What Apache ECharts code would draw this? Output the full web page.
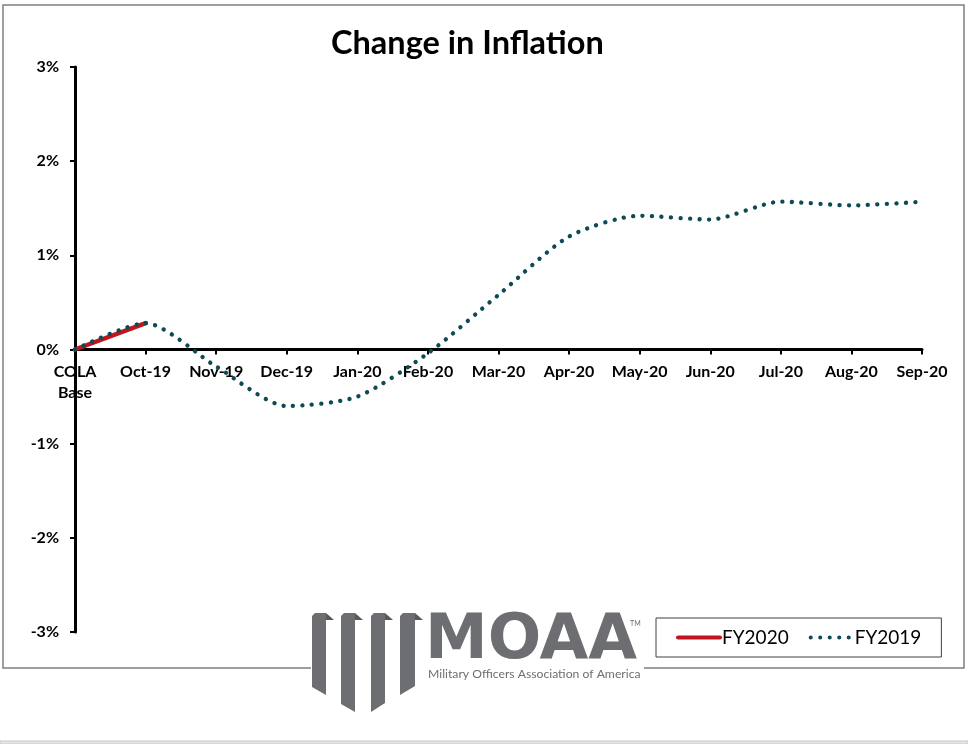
<!DOCTYPE html>
<html>
<head>
<meta charset="utf-8">
<script src="https://cdn.jsdelivr.net/npm/echarts@6/dist/echarts.min.js"></script>
<style>
html,body{margin:0;padding:0;background:#fff;}
#c{width:968px;height:744px;}
</style>
</head>
<body>
<div id="c"></div>
<script>
const categories = ['COLA\nBase','Oct-19','Nov-19','Dec-19','Jan-20','Feb-20','Mar-20','Apr-20','May-20','Jun-20','Jul-20','Aug-20','Sep-20'];
const fy2020 = [0, 0.28];
const fy2019 = [0, 0.28, -0.18, -0.60, -0.50, -0.04, 0.58, 1.20, 1.42, 1.38, 1.57, 1.53, 1.57];
const yTicks = [-3, -2, -1, 0, 1, 2, 3];

const chart = echarts.init(document.getElementById('c'), null, {renderer: 'canvas'});
const GREY = '#6d6e71', DARK = '#58595b';

function ribbon(x0, x1, top, bl, br) {
  return [
    {type:'polygon', z:11, shape:{points:[[x0,top+3],[x0+3,top],[x1,top],[x1,br],[x0,bl]]}, style:{fill:GREY}},
    {type:'polygon', z:12, shape:{points:[[x1,top],[x1+8,top+7],[x1,top+7]]}, style:{fill:DARK}}
  ];
}

const logo = [
  {type:'rect', z:10, shape:{x:311, y:604, width:333, height:112}, style:{fill:'#fff'}},
  ...ribbon(312, 326, 613, 687, 695),
  ...ribbon(341, 355, 613, 704, 712),
  ...ribbon(371, 385, 613, 712, 703),
  ...ribbon(400, 415, 613, 695, 686),
  {type:'text', z:11, x:425, y:610, style:{text:'MOAA', fill:GREY, font:'bold 63px "DejaVu Sans"', textAlign:'left', textVerticalAlign:'top'}},
  {type:'text', z:11, x:630, y:620, style:{text:'TM', fill:GREY, font:'7px Lato'}},
  {type:'text', z:11, x:428, y:668, style:{text:'Military Officers Association of America', fill:GREY, font:'12.2px "Liberation Sans Narrow", Lato'}}
];

chart.setOption({
  animation: false,
  backgroundColor: '#fff',
  title: {
    text: 'Change in Inflation',
    left: 326, top: 22,
    textStyle: {fontFamily: 'Lato', fontWeight: 'bold', fontSize: 32.5, color: '#000'}
  },
  grid: {left: 75, right: 46, top: 67, bottom: 112, containLabel: false},
  legend: {
    left: 656, top: 618,
    padding: [10, 20, 10, 20],
    borderColor: '#404040', borderWidth: 1,
    backgroundColor: '#fff',
    itemGap: 20, itemWidth: 42, itemHeight: 14,
    data: ['FY2020', 'FY2019'],
    itemStyle: {opacity: 0},
    lineStyle: {width: 4, cap: 'round'},
    textStyle: {fontFamily: 'Lato', fontSize: 19, color: '#000', padding: [0,0,0,-3]},
    z: 20
  },
  xAxis: {
    type: 'category',
    boundaryGap: false,
    data: categories,
    offset: -282.5,
    axisLine: {onZero: false, lineStyle: {color: '#000', width: 3}},
    axisTick: {show: true, alignWithLabel: true, length: 5, lineStyle: {color: '#000', width: 2}},
    axisLabel: {interval: 0, margin: 12, fontFamily: 'Lato', fontWeight: 'bold', fontSize: 16, color: '#000', lineHeight: 21}
  },
  yAxis: {
    type: 'value',
    min: yTicks[0], max: yTicks[yTicks.length-1], interval: 1,
    splitLine: {show: false},
    axisLine: {show: true, lineStyle: {color: '#000', width: 3}},
    axisTick: {show: true, length: 5, lineStyle: {color: '#000', width: 2}},
    axisLabel: {margin: 16, formatter: '{value}%', fontFamily: 'Lato', fontWeight: 'bold', fontSize: 16, color: '#000'}
  },
  series: [
    {
      name: 'FY2020', type: 'line', data: fy2020,
      symbol: 'none', showSymbol: false, z: 2,
      lineStyle: {color: '#c0141e', width: 4.5, cap: 'round'},
      itemStyle: {color: '#c0141e'}
    },
    {
      name: 'FY2019', type: 'line', data: fy2019,
      symbol: 'none', showSymbol: false, smooth: 0.25, z: 3,
      lineStyle: {color: '#0d4a55', width: 4.3, type: [0.1, 9.4], cap: 'round'},
      itemStyle: {color: '#0d4a55'}
    }
  ],
  graphic: [
    {type:'rect', z:-1, silent:true, shape:{x:3, y:5, width:961, height:663}, style:{fill:'none', stroke:'#7f7f7f', lineWidth:1.5}},
    {type:'rect', z:1, shape:{x:0, y:741, width:968, height:3}, style:{fill:'#e6e6e6', stroke:'#c8c8c8', lineWidth:1}},
    ...logo
  ]
});
</script>
</body>
</html>
